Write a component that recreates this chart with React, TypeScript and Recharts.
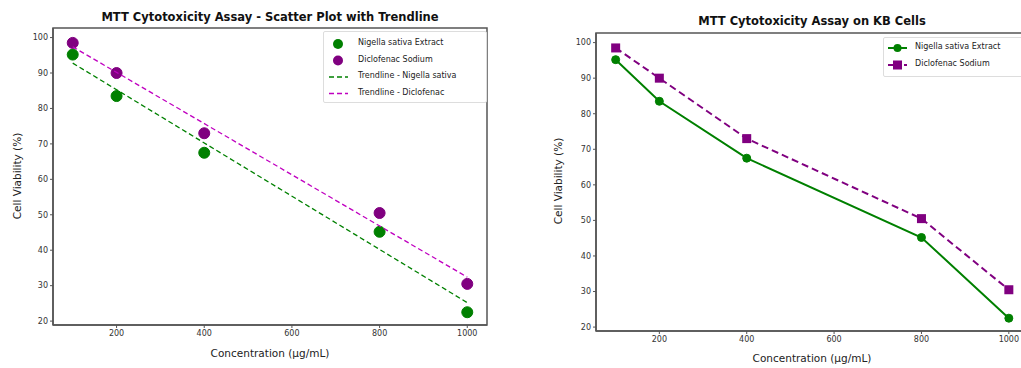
import React from 'react';
import { ComposedChart, Scatter, XAxis, YAxis, ReferenceArea } from 'recharts';

const concentrations = [100, 200, 400, 800, 1000];
const nigellaValues = [95.2, 83.5, 67.5, 45.2, 22.5];
const diclofenacValues = [98.5, 90, 73, 50.5, 30.5];
const trendX = [100, 1000];
const nigellaTrend = [92.8, 25.2];
const diclofenacTrend = [97.4, 32.4];
const xTicks = [200, 400, 600, 800, 1000];
const yTicks = [20, 30, 40, 50, 60, 70, 80, 90, 100];
const X_DOMAIN: [number, number] = [55, 1045];
const Y_DOMAIN: [number, number] = [18.9, 102.7];

const GREEN = '#008000';
const PURPLE = '#800080';
const MAGENTA = '#c000c0';
const FONT = '"DejaVu Sans", Verdana, sans-serif';
const AXIS = '#555';

const toPts = (xs: number[], ys: number[]) => xs.map((x, i) => ({ x, y: ys[i] }));
const nigellaPts = toPts(concentrations, nigellaValues);
const diclofenacPts = toPts(concentrations, diclofenacValues);
const nigellaTrendPts = toPts(trendX, nigellaTrend);
const diclofenacTrendPts = toPts(trendX, diclofenacTrend);

const tickStyle = { fontSize: 8, fill: '#333', fontFamily: FONT };

const Circle = (r: number, color: string) => (p: any) => (
  <circle cx={p.cx} cy={p.cy} r={r} fill={color} stroke={color} />
);
const Square = (s: number, color: string) => (p: any) => (
  <rect x={p.cx - s / 2} y={p.cy - s / 2} width={s} height={s} fill={color} />
);
const NoShape = () => null;

const frame = () => (
  <ReferenceArea x1={X_DOMAIN[0]} x2={X_DOMAIN[1]} y1={Y_DOMAIN[0]} y2={Y_DOMAIN[1]} fill="none" fillOpacity={0} stroke={AXIS} strokeWidth={1.5} strokeOpacity={1} ifOverflow="visible" />
);

const text = (style: React.CSSProperties, content: string) => (
  <div style={{ position: 'absolute', fontFamily: FONT, whiteSpace: 'nowrap', color: '#222', ...style }}>{content}</div>
);

export default function App() {
  return (
    <div style={{ position: 'absolute', left: 0, top: 0, width: 1021, height: 368, overflow: 'hidden', background: '#fff' }}>
      {/* Left chart */}
      <div style={{ position: 'absolute', left: 0, top: 0 }}>
        <ComposedChart width={500} height={368} margin={{ top: 28, right: 13, bottom: 18, left: 13 }}>
          <XAxis type="number" dataKey="x" domain={X_DOMAIN} allowDataOverflow ticks={xTicks} height={25} tick={tickStyle} tickLine={{ stroke: AXIS }} tickSize={3} axisLine={{ stroke: AXIS, strokeWidth: 1.5 }} />
          <YAxis type="number" dataKey="y" domain={Y_DOMAIN} allowDataOverflow ticks={yTicks} width={40} tick={tickStyle} tickLine={{ stroke: AXIS }} tickSize={3} axisLine={{ stroke: AXIS, strokeWidth: 1.5 }} />
          {frame()}
          <Scatter data={nigellaPts} shape={Circle(5.5, GREEN)} isAnimationActive={false} />
          <Scatter data={diclofenacPts} shape={Circle(5.5, PURPLE)} isAnimationActive={false} />
          <Scatter data={nigellaTrendPts} shape={NoShape} line={{ stroke: GREEN, strokeWidth: 1.3, strokeDasharray: '5 3' }} isAnimationActive={false} />
          <Scatter data={diclofenacTrendPts} shape={NoShape} line={{ stroke: MAGENTA, strokeWidth: 1.3, strokeDasharray: '5 3' }} isAnimationActive={false} />
        </ComposedChart>
      </div>
      {text({ left: 270, top: 10, transform: 'translateX(-50%)', fontSize: 11.5, fontWeight: 'bold', color: '#111' }, 'MTT Cytotoxicity Assay - Scatter Plot with Trendline')}
      {text({ left: 270, top: 347, transform: 'translateX(-50%)', fontSize: 10.5 }, 'Concentration (µg/mL)')}
      {text({ left: 17, top: 176, transform: 'translate(-50%, -50%) rotate(-90deg)', fontSize: 10.5 }, 'Cell Viability (%)')}
      <div style={{ position: 'absolute', left: 323, top: 31, width: 162, height: 70, border: '1px solid #ddd', borderRadius: 2, background: '#fff' }} />
      <svg style={{ position: 'absolute', left: 323, top: 31 }} width={30} height={70}>
        <circle cx={15} cy={13} r={5} fill={GREEN} />
        <circle cx={15} cy={29.5} r={5} fill={PURPLE} />
        <line x1={6} x2={25} y1={46} y2={46} stroke={GREEN} strokeWidth={1.3} strokeDasharray="5 3" />
        <line x1={6} x2={25} y1={62.5} y2={62.5} stroke={MAGENTA} strokeWidth={1.3} strokeDasharray="5 3" />
      </svg>
      {text({ left: 358, top: 38, fontSize: 8 }, 'Nigella sativa Extract')}
      {text({ left: 358, top: 54.5, fontSize: 8 }, 'Diclofenac Sodium')}
      {text({ left: 358, top: 71, fontSize: 8 }, 'Trendline - Nigella sativa')}
      {text({ left: 358, top: 87.5, fontSize: 8 }, 'Trendline - Diclofenac')}

      {/* Right chart */}
      <div style={{ position: 'absolute', left: 520, top: 0 }}>
        <ComposedChart width={520} height={368} margin={{ top: 33, right: 11.5, bottom: 12, left: 36 }}>
          <XAxis type="number" dataKey="x" domain={X_DOMAIN} allowDataOverflow ticks={xTicks} height={25} tick={tickStyle} tickLine={{ stroke: AXIS }} tickSize={3} axisLine={{ stroke: AXIS, strokeWidth: 1.5 }} />
          <YAxis type="number" dataKey="y" domain={Y_DOMAIN} allowDataOverflow ticks={yTicks} width={40} tick={tickStyle} tickLine={{ stroke: AXIS }} tickSize={3} axisLine={{ stroke: AXIS, strokeWidth: 1.5 }} />
          {frame()}
          <Scatter data={nigellaPts} shape={Circle(4, GREEN)} line={{ stroke: GREEN, strokeWidth: 2 }} isAnimationActive={false} />
          <Scatter data={diclofenacPts} shape={Square(9, PURPLE)} line={{ stroke: PURPLE, strokeWidth: 2, strokeDasharray: '7 4' }} isAnimationActive={false} />
        </ComposedChart>
      </div>
      {text({ left: 812, top: 14, transform: 'translateX(-50%)', fontSize: 11.5, fontWeight: 'bold', color: '#111' }, 'MTT Cytotoxicity Assay on KB Cells')}
      {text({ left: 812, top: 352, transform: 'translateX(-50%)', fontSize: 10.5 }, 'Concentration (µg/mL)')}
      {text({ left: 558, top: 181, transform: 'translate(-50%, -50%) rotate(-90deg)', fontSize: 10.5 }, 'Cell Viability (%)')}
      <div style={{ position: 'absolute', left: 883, top: 37, width: 160, height: 38, border: '1px solid #ddd', borderRadius: 2, background: '#fff' }} />
      <svg style={{ position: 'absolute', left: 883, top: 37 }} width={30} height={38}>
        <line x1={5} x2={24} y1={11} y2={11} stroke={GREEN} strokeWidth={2} />
        <circle cx={14.5} cy={11} r={4} fill={GREEN} />
        <line x1={5} x2={24} y1={28} y2={28} stroke={PURPLE} strokeWidth={2} strokeDasharray="5 3" />
        <rect x={10} y={23.5} width={9} height={9} fill={PURPLE} />
      </svg>
      {text({ left: 915, top: 42, fontSize: 8 }, 'Nigella sativa Extract')}
      {text({ left: 915, top: 59, fontSize: 8 }, 'Diclofenac Sodium')}
    </div>
  );
}
